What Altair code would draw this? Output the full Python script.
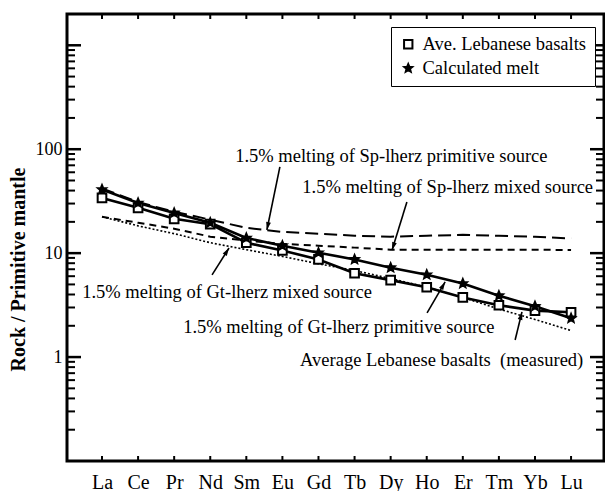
import json
import altair as alt
import pandas as pd

# Rare-earth elements along the x axis
elements = ["La", "Ce", "Pr", "Nd", "Sm", "Eu", "Gd", "Tb", "Dy", "Ho", "Er", "Tm", "Yb", "Lu"]

# Primitive-mantle normalised concentrations
ave_basalts = [34, 27.3, 21.4, 19.0, 12.6, 10.6, 8.7, 6.4, 5.5, 4.7, 3.75, 3.15, 2.8, 2.7]
calc_melt = [41, 30.4, 24.4, 19.6, 14.0, 11.8, 10.1, 8.7, 7.25, 6.2, 5.1, 3.9, 3.08, 2.36]
sp_primitive = [42, 31, 25, 21, 17.5, 16.0, 15.4, 14.7, 14.4, 14.7, 15.0, 14.7, 14.4, 13.8]
sp_mixed = [22.4, 19.6, 17.2, 14.4, 13.2, 12.3, 11.8, 11.3, 10.8, 10.8, 10.8, 10.8, 10.8, 10.7]
gt_mixed = [22.4, 18.3, 15.4, 12.6, 10.8, 9.3, 7.9, 6.8, 5.7, 4.7, 3.75, 2.9, 2.3, 1.8]

basalt_label = "Ave. Lebanese basalts"
melt_label = "Calculated melt"

# Annotation labels (x in element index, y in normalised units)
note_text = [
    "1.5% melting of Sp-lherz primitive source",
    "1.5% melting of Sp-lherz mixed source",
    "1.5% melting of Gt-lherz mixed source",
    "1.5% melting of Gt-lherz primitive source",
    "Average Lebanese basalts\u00a0\u00a0(measured)",
]
note_x = [3.69, 13.61, -0.55, 2.25, 5.49]
note_y = [86.0, 43.4, 4.23, 1.95, 0.94]
note_align = ["left", "right", "left", "left", "left"]

# Arrows: tail (x1, y1) -> head (x2, y2)
arrow_x1 = [4.93, 8.45, 3.05, 9.01, 11.45]
arrow_y1 = [67.6, 31.1, 6.17, 2.66, 1.46]
arrow_x2 = [4.57, 8.04, 3.52, 9.51, 11.64]
arrow_y2 = [16.7, 10.7, 11.2, 5.28, 2.72]
arrow_angle = [191.7, 197.4, 32.2, 30.1, 14.0]

# Axis tick positions on the log scale
major_ticks = [1, 10, 100, 1000]
minor_ticks = [m * 10.0 ** e for e in range(-1, 3) for m in range(2, 10)]

SERIF = "Liberation Serif"
W, H = 537, 447
STAR = ("M0,-1L0.26,-0.36L0.95,-0.31L0.42,0.14L0.59,0.81L0,0.45L-0.59,0.81"
        "L-0.42,0.14L-0.95,-0.31L-0.26,-0.36Z")

idx = list(range(len(elements)))

def series_frame(values, name):
    return pd.DataFrame({"i": idx, "element": elements, "value": values, "series": name})

basalt_df = series_frame(ave_basalts, basalt_label)
melt_df = series_frame(calc_melt, melt_label)
points_df = pd.concat([basalt_df, melt_df])
sp_prim_df = series_frame(sp_primitive, "sp_primitive")
sp_mix_df = series_frame(sp_mixed, "sp_mixed")
gt_mix_df = series_frame(gt_mixed, "gt_mixed")

notes_df = pd.DataFrame({"text": note_text, "x": note_x, "y": note_y, "align": note_align})
arrows_df = pd.DataFrame({"x1": arrow_x1, "y1": arrow_y1, "x2": arrow_x2, "y2": arrow_y2,
                          "angle": arrow_angle})

x_scale = alt.Scale(domain=[-0.97, 13.913], nice=False, zero=False)
y_scale = alt.Scale(type="log", domain=[0.1, 2000], nice=False)

x_axis = alt.Axis(
    values=idx,
    labelExpr=json.dumps(elements) + "[datum.value]",
    title=None, ticks=False, domain=False, grid=False,
    labelFont=SERIF, labelFontSize=20, labelColor="black", labelPadding=11,
)
y_axis = alt.Axis(
    values=[1, 10, 100], format="d",
    title="Rock / Primitive mantle", titleFont=SERIF, titleFontSize=20, titleFontWeight="bold",
    titleColor="black", titlePadding=7, titleY=255,
    ticks=False, domain=False, grid=False,
    labelFont=SERIF, labelFontSize=18, labelColor="black", labelPadding=5,
)

def ex(field):
    return alt.X(field, scale=x_scale, axis=x_axis)

def ey(field):
    return alt.Y(field, scale=y_scale, axis=y_axis)

X, Y = ex("i:Q"), ey("value:Q")

basalt_line = alt.Chart(basalt_df).mark_line(color="black", strokeWidth=2.6).encode(x=X, y=Y)
melt_line = alt.Chart(melt_df).mark_line(color="black", strokeWidth=2.6).encode(x=X, y=Y)
sp_prim_line = alt.Chart(sp_prim_df).mark_line(color="black", strokeWidth=2, strokeDash=[13, 6]).encode(x=X, y=Y)
sp_mix_line = alt.Chart(sp_mix_df).mark_line(color="black", strokeWidth=2, strokeDash=[7, 5]).encode(x=X, y=Y)
gt_mix_line = alt.Chart(gt_mix_df).mark_line(color="black", strokeWidth=1.6, strokeDash=[2, 2]).encode(x=X, y=Y)

legend_cfg = dict(
    title=None, orient="none", legendX=324, legendY=13,
    labelFont=SERIF, labelFontSize=18.5, labelColor="black", labelOffset=5, labelLimit=400,
    symbolStrokeWidth=2, symbolSize=70, rowPadding=5, padding=8,
    strokeColor="black", fillColor="white",
)
series_domain = [basalt_label, melt_label]
points = alt.Chart(points_df).mark_point(strokeWidth=2, size=75, opacity=1).encode(
    x=X, y=Y,
    shape=alt.Shape("series:N", scale=alt.Scale(domain=series_domain, range=["square", STAR]),
                    legend=alt.Legend(**legend_cfg)),
    fill=alt.Fill("series:N", scale=alt.Scale(domain=series_domain, range=["white", "black"]),
                  legend=alt.Legend(**legend_cfg)),
    stroke=alt.Stroke("series:N", scale=alt.Scale(domain=series_domain, range=["black", "black"]),
                      legend=alt.Legend(**legend_cfg)),
)

# Inward tick marks on all four sides
maj_df = pd.DataFrame({"value": major_ticks})
min_df = pd.DataFrame({"value": minor_ticks})
xt_df = pd.DataFrame({"i": idx})

def yticks(df, length, width):
    left = alt.Chart(df).mark_rule(color="black", strokeWidth=width).encode(
        y=Y, x=alt.value(0), x2=alt.value(length))
    right = alt.Chart(df).mark_rule(color="black", strokeWidth=width).encode(
        y=Y, x=alt.value(W), x2=alt.value(W - length))
    return [left, right]

xt_bottom = alt.Chart(xt_df).mark_rule(color="black", strokeWidth=2).encode(
    x=X, y=alt.value(H), y2=alt.value(H - 5))
xt_top = alt.Chart(xt_df).mark_rule(color="black", strokeWidth=2).encode(
    x=X, y=alt.value(0), y2=alt.value(5))

def note_layer(align):
    return alt.Chart(notes_df).transform_filter(
        alt.datum.align == align
    ).mark_text(font=SERIF, fontSize=18.5, color="black", baseline="middle", align=align).encode(
        x=ex("x:Q"), y=ey("y:Q"), text="text:N",
    )

arrow_lines = alt.Chart(arrows_df).mark_rule(color="black", strokeWidth=1.6).encode(
    x=ex("x1:Q"), y=ey("y1:Q"), x2="x2:Q", y2="y2:Q",
)
arrow_heads = alt.Chart(arrows_df).mark_point(
    shape="M0,0L0.3,1L-0.3,1Z", filled=True, color="black", size=256, opacity=1
).encode(
    x=ex("x2:Q"), y=ey("y2:Q"), angle=alt.Angle("angle:Q", scale=None),
)

chart = alt.layer(
    basalt_line, melt_line, sp_prim_line, sp_mix_line, gt_mix_line, points,
    *yticks(maj_df, 14, 2.5), *yticks(min_df, 8, 2), xt_bottom, xt_top,
    note_layer("left"), note_layer("right"), arrow_lines, arrow_heads,
).properties(
    width=W, height=H,
    autosize=alt.AutoSizeParams(type="none"),
    padding={"left": 67, "top": 14, "right": 1, "bottom": 30},
    background="white",
).configure_view(
    stroke="black", strokeWidth=3
)

chart.save("out.html", embed_options={"renderer": "svg", "actions": False})
